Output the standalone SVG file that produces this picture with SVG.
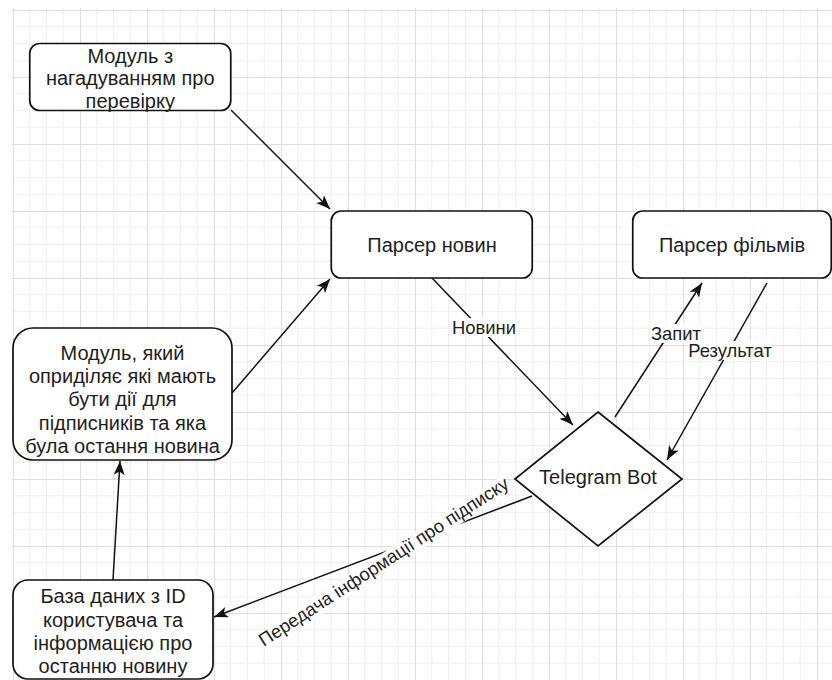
<svg xmlns="http://www.w3.org/2000/svg" width="832" height="680" viewBox="0 0 832 680">
<defs>
<pattern id="grid" x="13" y="10" width="67" height="67" patternUnits="userSpaceOnUse">
<path d="M16.75,0V67M33.5,0V67M50.25,0V67M0,16.75H67M0,33.5H67M0,50.25H67" stroke="#efefef" stroke-width="1" fill="none"/>
<path d="M0.5,0V67M0,0.5H67" stroke="#dddddd" stroke-width="1" fill="none"/>
</pattern>
<marker id="arr" markerUnits="userSpaceOnUse" markerWidth="15" markerHeight="12" refX="14" refY="5.5" orient="auto">
<path d="M0,0 L14,5.5 L0,11 L3.5,5.5 Z" fill="#111"/>
</marker>
<style>
.node{fill:#fff;stroke:#111;stroke-width:1.7}
.t{font-family:"Liberation Sans",Arial,sans-serif;font-size:20px;fill:#1e1e1e;text-anchor:middle}
.el{font-family:"Liberation Sans",Arial,sans-serif;font-size:18.4px;fill:#1e1e1e;text-anchor:middle}
.edge{fill:none;stroke:#111;stroke-width:1.5;marker-end:url(#arr)}
.lbg{fill:#fff}
</style>
</defs>
<rect x="0" y="0" width="832" height="680" fill="#fff"/>
<rect x="12" y="8" width="820" height="672" fill="url(#grid)"/>

<g id="connectors">
<line class="edge" x1="231" y1="110" x2="330" y2="209"/>
<line class="edge" x1="232" y1="393" x2="330" y2="279"/>
<line class="edge" x1="432" y1="278" x2="573" y2="425"/>
<line class="edge" x1="615" y1="417" x2="702" y2="283"/>
<line class="edge" x1="767" y1="283" x2="667" y2="460"/>
<line class="edge" x1="532" y1="496" x2="214" y2="617"/>
<line class="edge" x1="113" y1="580" x2="120" y2="461"/>
<rect class="lbg" x="452" y="318" width="64" height="19"/>
<text class="el" x="484" y="334">Новини</text>
<rect class="lbg" x="652" y="324" width="48" height="19"/>
<text class="el" x="676" y="340">Запит</text>
<rect class="lbg" x="688" y="341" width="84" height="19"/>
<text class="el" x="730" y="357">Результат</text>
<g transform="translate(387,567) rotate(-33)">
<rect class="lbg" x="-146" y="-14" width="292" height="18"/>
<text class="el" x="0" y="0" fill="#333">Передача інформації про підписку</text>
</g>
</g>

<g id="m1">
<rect class="node" x="29.75" y="43.5" width="201" height="67" rx="10"/>
<text class="t" x="130.25" y="62.5">Модуль з</text>
<text class="t" x="130.25" y="85">нагадуванням про</text>
<text class="t" x="130.25" y="107.5">перевірку</text>
</g>
<g id="parser-news">
<rect class="node" x="331.25" y="211" width="201" height="67" rx="10"/>
<text class="t" x="432" y="251.5">Парсер новин</text>
</g>
<g id="parser-films">
<rect class="node" x="632.75" y="211" width="198.5" height="67" rx="10"/>
<text class="t" x="732" y="251.5">Парсер фільмів</text>
</g>
<g id="m2">
<rect class="node" x="13" y="328" width="219" height="132" rx="20"/>
<text class="t" x="122.5" y="360">Модуль, який</text>
<text class="t" x="122.5" y="383.2">оприділяє які мають</text>
<text class="t" x="122.5" y="406.4">бути дії для</text>
<text class="t" x="122.5" y="429.6">підписників та яка</text>
<text class="t" x="122.5" y="452.8">була остання новина</text>
</g>
<g id="telegram-bot">
<polygon class="node" points="598,412 682,479 598,546 515,479"/>
<text class="t" x="598" y="484">Telegram Bot</text>
</g>
<g id="db">
<rect class="node" x="13" y="580" width="200" height="99" rx="15"/>
<text class="t" x="113" y="603.3">База даних з ID</text>
<text class="t" x="113" y="626.6">користувача та</text>
<text class="t" x="113" y="649.9">інформацією про</text>
<text class="t" x="113" y="673.2">останню новину</text>
</g>
</svg>
